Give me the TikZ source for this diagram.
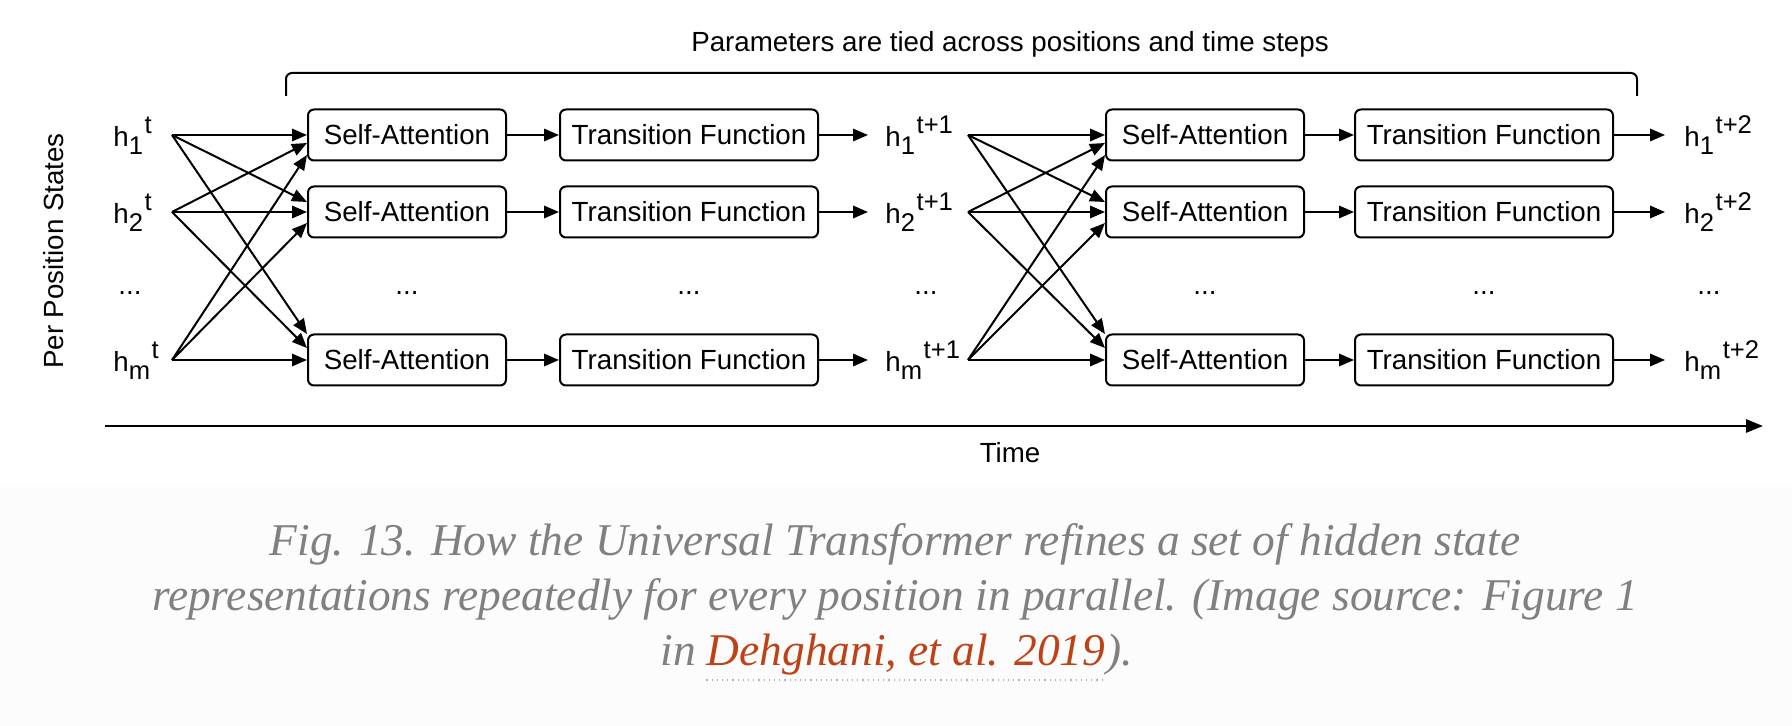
\documentclass[tikz,border=0pt]{standalone}
\usepackage{fontspec}
\setmainfont{Liberation Sans}
\newfontfamily\capfont{Liberation Serif}
\usetikzlibrary{arrows.meta,positioning,calc}
\definecolor{capgray}{RGB}{128,128,128}
\definecolor{linkred}{RGB}{190,66,22}
\definecolor{capbg}{RGB}{252,252,252}

% state label h_i^t
\newcommand{\scrfont}{\fontsize{12.8}{12.8}\selectfont}
\newcommand{\hstate}[2]{h\raisebox{-4pt}{\scrfont #1}\kern0.8pt\raisebox{6.5pt}{\scrfont #2}}

\begin{document}
\begin{tikzpicture}[x=0.5pt, y=-0.5pt, font=\fontsize{13.85}{16}\selectfont,
    block/.style={draw, line width=1pt, rounded corners=3pt, minimum height=25.5pt, inner sep=0pt},
    attn/.style={block, minimum width=99pt},
    trans/.style={block, minimum width=129pt},
    arr/.style={-{Triangle[length=7.5pt,width=6.2pt]}, line width=1pt},
    hlab/.style={anchor=base west, inner sep=0pt},
    dots/.style={anchor=base, inner sep=0pt},
    captext/.style={font=\capfont\itshape\fontsize{22.7}{27}\selectfont, text=capgray, inner sep=0pt}]

    % Canvas
    \useasboundingbox (0,0) rectangle (1792,726);
    \fill[white] (0,0) rectangle (1792,485);
    \fill[capbg] (0,485) rectangle (1792,726);

    % Rows of blocks and states
    \foreach \r/\y in {1/135, 2/212, m/360} {
        \node[hlab] (h\r a) at (113,\y+12) {\hstate{\r}{t}};
        \coordinate (o\r a) at (172,\y);
        \node[attn] (sa\r a) at (407,\y) {Self-Attention};
        \node[trans] (tf\r a) at (689,\y) {Transition Function};
        \coordinate (i\r b) at (868,\y);
        \node[hlab] (h\r b) at (885,\y+12) {\hstate{\r}{t+1}};
        \coordinate (o\r b) at (968,\y);
        \node[attn] (sa\r b) at (1205,\y) {Self-Attention};
        \node[trans] (tf\r b) at (1484,\y) {Transition Function};
        \coordinate (i\r c) at (1665,\y);
        \node[hlab] (h\r c) at (1684,\y+12) {\hstate{\r}{t+2}};

        \draw[arr] (o\r a) -- (sa\r a.west);
        \draw[arr] (sa\r a) -- (tf\r a);
        \draw[arr] (tf\r a) -- (i\r b);
        \draw[arr] (o\r b) -- (sa\r b.west);
        \draw[arr] (sa\r b) -- (tf\r b);
        \draw[arr] (tf\r b) -- (i\r c);
    }

    % Attention across positions
    \foreach \s/\d/\off in {2/1/-4, m/1/-10, 1/2/5, m/2/-5.5, 1/m/13, 2/m/6} {
        \draw[arr] (o\s a) -- ([yshift=\off pt]sa\d a.west);
        \draw[arr] (o\s b) -- ([yshift=\off pt]sa\d b.west);
    }

    % Dots
    \foreach \x in {130, 407, 689, 926, 1205, 1484, 1709}
        \node[dots] at (\x,295) {...};

    % Tied parameters
    \draw[line width=1pt, rounded corners=3pt] (286,96) -- (286,73) -- (1637,73) -- (1637,96);
    \node[anchor=base] (tied) at (1010,52) {Parameters are tied across positions and time steps};

    % Axes
    \node[rotate=90, anchor=base] (pps) at (63,251) {Per Position States};
    \coordinate (t0) at (105,426);
    \coordinate (t1) at (1763,426);
    \draw[line width=1.4pt, -{Triangle[length=8.5pt,width=6.5pt]}] (t0) -- (t1);
    \node[anchor=base] (time) at (1010,463) {Time};

    % Caption
    \node[captext, anchor=base] (cap1) at (895,555) {Fig. 13. How the Universal Transformer refines a set of hidden state};
    \node[captext, anchor=base] (cap2) at (895,610) {representations repeatedly for every position in parallel. (Image source: Figure 1};
    \node[captext, anchor=base, text=linkred] (link) at (906,665) {Dehghani, et al. 2019};
    \node[captext, anchor=base east] (capin) at ([xshift=-5pt]link.base west) {in};
    \node[captext, anchor=base west] (capend) at (link.base east) {).};
    \draw[capgray!60, dotted, line width=0.6pt] ([yshift=-7.5pt]link.base west) -- ([yshift=-7.5pt]link.base east);
\end{tikzpicture}
\end{document}
